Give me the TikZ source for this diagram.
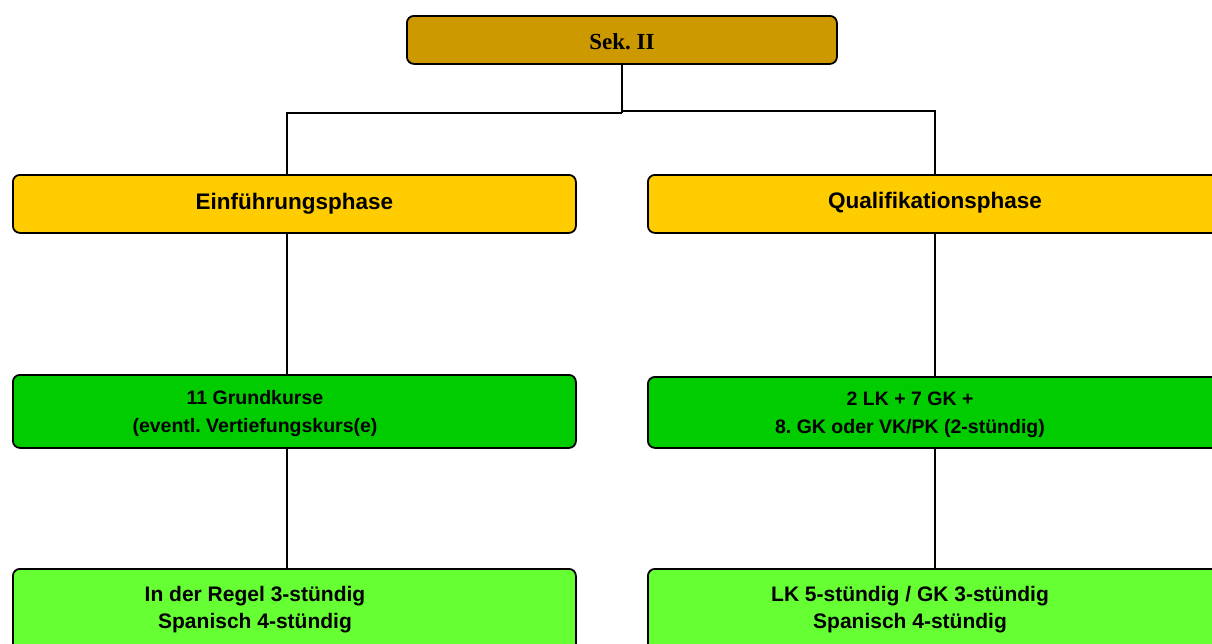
\documentclass[tikz,border=0pt]{standalone}
\usepackage{fontspec}
\setmainfont{Liberation Sans}
\newfontfamily\serifbold{Liberation Serif}
\definecolor{sekcol}{HTML}{CC9900}
\definecolor{phasecol}{HTML}{FFCC00}
\definecolor{midcol}{HTML}{00CC00}
\definecolor{lowcol}{HTML}{66FF33}
\tikzset{
  box/.style={draw=black, line width=1.8pt, rounded corners=7pt, inner sep=0pt, anchor=north west},
  conn/.style={draw=black, line width=1.6pt},
  phasetext/.style={font=\bfseries\fontsize{22.5}{27}\selectfont},
  midtext/.style={font=\bfseries\fontsize{19.5}{28}\selectfont, align=center},
  lowtext/.style={font=\bfseries\fontsize{21}{27}\selectfont, align=center}
}
\frenchspacing
\begin{document}
\frenchspacing
\begin{tikzpicture}[x=1pt,y=-1pt]
\useasboundingbox (0,0) rectangle (1212,643);
\begin{scope}
\clip (0,0) rectangle (1212,643);
% coordinates for connector lines
\coordinate (jl) at (622,113);
\coordinate (jr) at (622,111);
\coordinate (xl) at (287,0);
\coordinate (xr) at (935,0);
% boxes
\node[box, fill=sekcol, minimum width=430pt, minimum height=48pt] (sek) at (406,15) {};
\node[font=\serifbold\bfseries\fontsize{23}{27}\selectfont] (sektxt) at (622,42) {Sek. II};
\node[box, fill=phasecol, minimum width=563pt, minimum height=58pt] (einf) at (12,174) {};
\node[phasetext] (einftxt) at (einf.center) {Einführungsphase};
\node[box, fill=phasecol, minimum width=578pt, minimum height=58pt] (qual) at (647,174) {};
\node[phasetext] (qualtxt) at (935,203) {Qualifikationsphase};
\node[box, fill=midcol, minimum width=563pt, minimum height=73pt] (gkl) at (12,374) {};
\node[midtext] (gkltxt) at (255,413) {11 Grundkurse\\(eventl. Vertiefungskurs(e)};
\node[box, fill=midcol, minimum width=578pt, minimum height=71pt] (gkr) at (647,376) {};
\node[midtext] (gkrtxt) at (910,415) {2 LK + 7 GK +\\8. GK oder VK/PK (2-stündig)};
\node[box, fill=lowcol, minimum width=563pt, minimum height=90pt] (bl) at (12,568) {};
\node[lowtext] (bltxt) at (255,610) {In der Regel 3-stündig\\Spanisch 4-stündig};
\node[box, fill=lowcol, minimum width=578pt, minimum height=90pt] (br) at (647,568) {};
\node[lowtext] (brtxt) at (910,610) {LK 5-stündig / GK 3-stündig\\Spanisch 4-stündig};
% connectors
\draw[conn] (sek.south -| jl) -- (jl);
\draw[conn] (jl) -- (jl -| xl) -- (einf.north -| xl);
\draw[conn] (jr) -- (jr -| xr) -- (qual.north -| xr);
\draw[conn] (einf.south -| xl) -- (gkl.north -| xl);
\draw[conn] (gkl.south -| xl) -- (bl.north -| xl);
\draw[conn] (qual.south -| xr) -- (gkr.north -| xr);
\draw[conn] (gkr.south -| xr) -- (br.north -| xr);
\end{scope}
\end{tikzpicture}
\end{document}
